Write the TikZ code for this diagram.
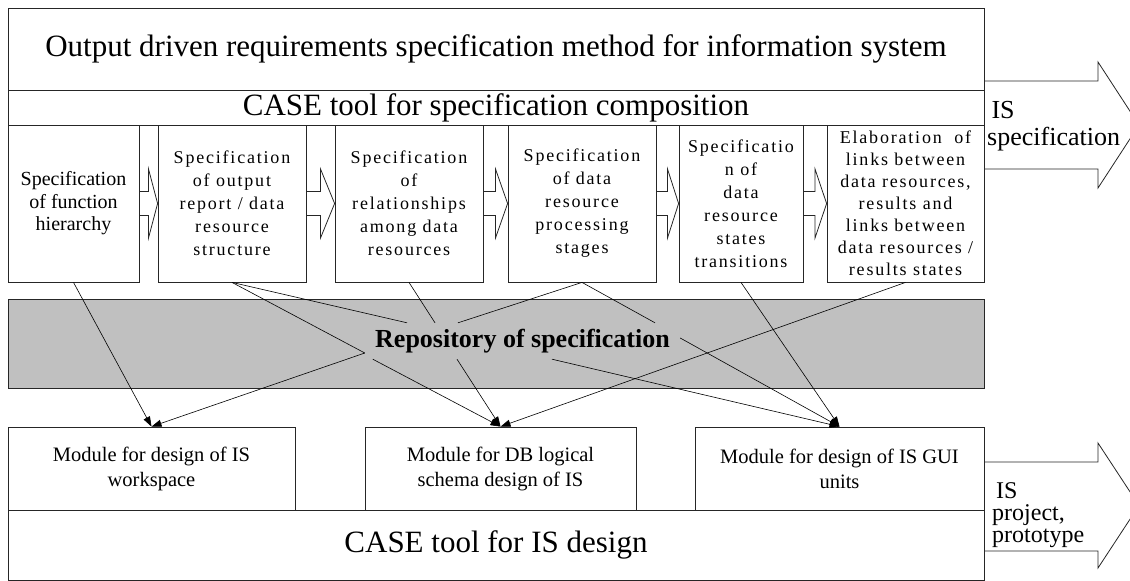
\documentclass[tikz,border=0pt]{standalone}
\usepackage{fontspec}
\setmainfont{Liberation Serif}
\newfontfamily\spacedfont[LetterSpace=10]{Liberation Serif}
\usetikzlibrary{arrows.meta,calc}
\definecolor{repogray}{HTML}{C0C0C0}

\tikzset{
  outline/.style={draw=black!85, line width=0.8pt},
  frame/.style={outline, inner sep=0pt},
  band/.style={frame, minimum width=976, minimum height=#1, font=\fontsize{31}{36}\selectfont},
  stepbox/.style={frame, minimum width=#1, minimum height=157, align=center,
    font=\spacedfont\fontsize{18}{23}\selectfont},
  modbox/.style={frame, minimum width=#1, minimum height=83, align=center,
    font=\fontsize{20.5}{25}\selectfont},
  link/.style={line width=0.6pt},
  flow/.style={link, -{Triangle[length=10pt,width=7pt]}},
  outlabel/.style={align=left, anchor=base west, inner sep=0pt}
}

\begin{document}
\begin{tikzpicture}[x=1pt,y=-1pt]
  \useasboundingbox (0,0) rectangle (1130,581);
  \clip (0,0) rectangle (1130,581);
  % specification part
  \node[band=82] (title) at (496,49) {Output driven requirements specification method for information system};
  \node[band=35] (casespec) at (496,107.5) {CASE tool for specification composition};
  \node[stepbox=131, font=\fontsize{20}{22.5}\selectfont] (s1) at (73.5,203.5) {Specification\\of function\\hierarchy};
  \node[stepbox=148] (s2) at (232,203.5) {Specification\\of output\\report / data\\resource\\structure};
  \node[stepbox=148] (s3) at (409,203.5) {Specification\\of\\relationships\\among data\\resources};
  \node[stepbox=148] (s4) at (582,203.5) {Specification\\of data\\resource\\processing\\stages};
  \node[stepbox=124] (s5) at (741,203.5) {Specificatio\\n of\\data\\resource\\states\\transitions};
  \node[stepbox=157, font=\spacedfont\fontsize{18}{22}\selectfont] (s6) at (905.5,203.5) {Elaboration\ \ of\\links between\\data resources,\\results and\\links between\\data resources /\\results states};
  \foreach \a/\b in {s1/s2,s2/s3,s3/s4,s4/s5,s5/s6}
    \draw[outline] ($(\a.east)+(0,-12)$) -- ($(\a.east)!.5!(\b.west)+(0,-12)$)
      -- ($(\a.east)!.5!(\b.west)+(0,-34.5)$) -- (\b.west)
      -- ($(\a.east)!.5!(\b.west)+(0,34.5)$) -- ($(\a.east)!.5!(\b.west)+(0,12)$)
      -- ($(\a.east)+(0,12)$);
  \draw[outline] (984,81) -- (1098,81) -- (1098,62) -- (1139,125) -- (1098,188) -- (1098,169) -- (984,169);
  \node[outlabel, font=\fontsize{26}{27}\selectfont] (isspec) at (987,145) {\,IS\\specification};

  % repository
  \node[frame, fill=repogray, minimum width=976, minimum height=89] (bar) at (496,343.5) {};
  \node[font=\bfseries\fontsize{26}{30}\selectfont, minimum width=315, minimum height=36, inner sep=0pt] (repo) at (522.5,341) {Repository of specification};
  \coordinate (rin1) at ([xshift=-115.5pt]repo.north);
  \coordinate (rin2) at ([xshift=-87.5pt]repo.north);
  \coordinate (rin3) at ([xshift=-64.5pt]repo.north);
  \coordinate (rin4) at ([xshift=132.5pt]repo.north);
  \coordinate (rmid) at ([yshift=-12pt]repo.west);
  \coordinate (rout1) at ([xshift=8pt]repo.south west);
  \coordinate (rout2) at ([xshift=-65.5pt]repo.south);
  \coordinate (rout3) at ([xshift=29.5pt]repo.south);
  \coordinate (rout4) at ([yshift=3pt]repo.east);

  % design part
  \node[modbox=287] (m1) at (151.5,468.5) {Module for design of IS\\workspace};
  \node[modbox=271] (m2) at (500.5,468.5) {Module for DB logical\\schema design of IS};
  \node[modbox=289] (m3) at (839.5,468.5) {Module for design of IS GUI\\units};
  \node[band=70] (casedesign) at (496,545) {CASE tool for IS design};
  \draw[outline] (984,462) -- (1098,462) -- (1098,443) -- (1139,505.5) -- (1098,568) -- (1098,551) -- (984,551);
  \node[outlabel, font=\fontsize{24}{22}\selectfont] (isproj) at (992,542) {\,IS\\project,\\prototype};

  % connections
  \draw[link] (s2.south) -- (rin1);
  \draw[link] (s2.south) -- (rmid);
  \draw[link] (s3.south) -- (rin2);
  \draw[link] (s4.south) -- (rin3);
  \draw[link] (s4.south) -- (rin4);
  \draw[flow] (s1.south) -- (m1.north);
  \draw[flow] (rmid) -- (m1.north);
  \draw[flow] (rout1) -- (m2.north);
  \draw[flow] (rout2) -- (m2.north);
  \draw[flow] (s6.south) -- (m2.north);
  \draw[flow] (rout3) -- (m3.north);
  \draw[flow] (rout4) -- (m3.north);
  \draw[flow] (s5.south) -- (m3.north);
\end{tikzpicture}
\end{document}
